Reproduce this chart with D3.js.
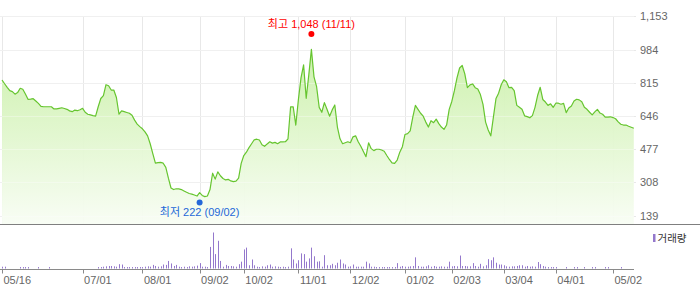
<!DOCTYPE html>
<html>
<head>
<meta charset="utf-8">
<script src="https://cdn.jsdelivr.net/npm/d3@7"></script>
<style>
  body { margin: 0; background: #fff; }
  svg { display: block; font-family: "Liberation Sans", "Noto Sans CJK KR", sans-serif; }
</style>
</head>
<body>
<svg id="chart" width="700" height="289"></svg>
<script>
// closing price per trading day (index 0 = 05/16)
const prices = [
  829,810,792,775,770,757,765,787,782,758,
  731,732,734,722,710,695,693,693,693,693,
  682,682,685,688,684,680,672,668,676,673,
  678,685,665,655,652,648,645,693,735,750,
  805,800,778,778,740,655,672,668,664,660,
  650,625,605,592,581,565,545,505,455,406,
  409,410,406,385,330,280,272,276,275,272,
  265,258,252,249,244,239,256,242,236,239,
  272,355,325,362,342,328,321,324,316,312,
  315,330,405,445,462,485,505,525,528,524,
  500,492,504,515,508,512,505,514,514,515,
  530,693,692,600,730,840,906,736,855,985,
  845,795,690,665,714,680,645,677,702,590,
  530,505,510,515,510,540,545,515,492,465,
  439,510,480,470,477,477,473,467,445,425,
  408,405,422,462,490,552,556,570,640,700,
  680,660,645,615,590,622,612,630,607,590,
  578,600,680,720,775,840,890,903,860,790,
  804,809,790,783,755,705,615,575,545,640,
  735,762,805,830,820,790,792,775,700,690,
  680,647,643,637,648,690,750,792,730,717,
  700,708,690,711,711,706,710,663,687,697,
  722,731,728,719,690,680,665,652,667,680,
  661,655,640,640,642,638,632,616,604,600,
  600,594,589,584
];

// volume per trading day (relative units, max = 100)
const volumes = [
  5,5,0,0,0,0,0,4,4,4,
  4,0,0,0,4,0,0,0,4,0,
  0,0,0,0,0,0,0,0,0,0,
  0,0,0,0,0,0,0,4,4,5,
  6,7,7,6,5,12,11,4,4,4,
  4,4,4,4,4,5,6,5,10,7,
  5,6,11,10,21,14,7,10,5,4,
  5,4,6,5,6,8,15,5,5,4,
  60,100,40,77,21,5,10,7,7,6,
  5,12,19,53,58,9,25,9,5,4,
  6,5,9,11,5,6,5,4,5,4,
  5,56,25,14,23,42,40,19,28,58,
  34,19,20,5,37,9,9,13,9,16,
  25,14,11,5,6,11,5,5,5,5,
  19,14,5,5,4,4,4,4,4,4,
  4,4,15,5,7,5,5,6,7,31,
  7,5,5,6,9,5,7,5,5,6,
  5,5,19,6,7,6,36,7,7,6,
  6,15,7,5,13,6,9,26,23,31,
  16,11,11,9,6,5,6,6,7,9,
  9,5,7,5,6,5,18,12,7,5,
  4,4,4,4,0,0,0,4,0,0,
  4,4,0,0,4,0,0,4,4,0,
  0,0,4,4,0,0,0,0,4,0,
  0,0,0,0
];

const yTicks = [139, 308, 477, 646, 815, 984, 1153];
const xTickDays = [0, 31, 54, 76, 93, 114, 134, 155, 173, 193, 213, 235];
const xTickLabels = ['05/16', '07/01', '08/01', '09/02', '10/02', '11/01', '12/02', '01/02', '02/03', '03/04', '04/01', '05/02'];

const high = { day: 119, value: 1048, label: '최고 1,048 (11/11)' };
const low = { day: 76, value: 222, label: '최저 222 (09/02)' };

const svg = d3.select('#chart');

const x = d3.scaleLinear().domain([0, prices.length - 1]).range([2, 633.8]);
const y = d3.scaleLinear().domain([139, 1153]).range([215.7, 16.3]);
const yVol = d3.scaleLinear().domain([0, 100]).range([268.5, 232.5]);

const priceBottom = 224;
const crisp = v => Math.round(v) + 0.5;

// gradient fill
const defs = svg.append('defs');
const grad = defs.append('linearGradient')
  .attr('id', 'fillGrad')
  .attr('gradientUnits', 'userSpaceOnUse')
  .attr('x1', 0).attr('x2', 0)
  .attr('y1', y(1153)).attr('y2', priceBottom);
grad.append('stop').attr('offset', 0).attr('stop-color', '#c2ee9b');
grad.append('stop').attr('offset', 1).attr('stop-color', '#f8fdf4');

// grid
const grid = svg.append('g');
grid.selectAll('line.h')
  .data(yTicks)
  .join('line')
  .attr('x1', 0).attr('x2', 636)
  .attr('y1', d => crisp(y(d))).attr('y2', d => crisp(y(d)))
  .attr('stroke', '#e8e8e8');
grid.selectAll('line.v')
  .data(xTickDays)
  .join('line')
  .attr('x1', d => crisp(x(d))).attr('x2', d => crisp(x(d)))
  .attr('y1', crisp(y(1153))).attr('y2', priceBottom)
  .attr('stroke', '#e8e8e8');

// price area + line
const area = d3.area()
  .x((d, i) => x(i))
  .y0(priceBottom)
  .y1(d => y(d));
const line = d3.line()
  .x((d, i) => x(i))
  .y(d => y(d));

svg.append('path')
  .attr('d', area(prices))
  .attr('fill', 'url(#fillGrad)')
  .attr('opacity', 0.95);

// redraw grid faintly over fill
svg.append('g').selectAll('line')
  .data(yTicks)
  .join('line')
  .attr('x1', 0).attr('x2', 634)
  .attr('y1', d => crisp(y(d))).attr('y2', d => crisp(y(d)))
  .attr('stroke', '#ffffff').attr('stroke-opacity', 0.35);

svg.append('path')
  .attr('d', line(prices))
  .attr('fill', 'none')
  .attr('stroke', '#66c52f')
  .attr('stroke-width', 1.2)
  .attr('stroke-linejoin', 'round');

// right axis labels
svg.append('g').selectAll('text')
  .data(yTicks)
  .join('text')
  .attr('x', 640)
  .attr('y', d => y(d) + 4)
  .attr('font-size', 11)
  .attr('fill', '#666')
  .text(d => d3.format(',')(d));

// separator between price and volume panels
svg.append('line')
  .attr('x1', 0).attr('x2', 700)
  .attr('y1', priceBottom + 0.5).attr('y2', priceBottom + 0.5)
  .attr('stroke', '#7f7f7f');

// volume bars
svg.append('g').selectAll('rect')
  .data(volumes.map((v, i) => ({ v, i })).filter(d => d.v > 0))
  .join('rect')
  .attr('x', d => Math.round(x(d.i)))
  .attr('width', 1)
  .attr('y', d => yVol(d.v))
  .attr('height', d => yVol(0) - yVol(d.v))
  .attr('fill', '#9478cc');

// volume baseline + ticks
svg.append('line')
  .attr('x1', 0).attr('x2', 634)
  .attr('y1', crisp(yVol(0))).attr('y2', crisp(yVol(0)))
  .attr('stroke', '#8a8a8a');
svg.append('g').selectAll('line')
  .data(xTickDays)
  .join('line')
  .attr('x1', d => crisp(x(d))).attr('x2', d => crisp(x(d)))
  .attr('y1', crisp(yVol(0))).attr('y2', crisp(yVol(0)) + 4)
  .attr('stroke', '#8a8a8a');

// x labels
svg.append('g').selectAll('text')
  .data(xTickDays)
  .join('text')
  .attr('x', d => x(d) + 1.5)
  .attr('y', 284)
  .attr('font-size', 11)
  .attr('fill', '#666')
  .text((d, i) => xTickLabels[i]);

// legend
svg.append('rect')
  .attr('x', 653).attr('y', 234)
  .attr('width', 2.5).attr('height', 8)
  .attr('fill', '#9478cc');
svg.append('text')
  .attr('x', 657.5).attr('y', 241.5)
  .attr('font-size', 10.5)
  .attr('fill', '#333')
  .text('거래량');

// high / low markers
svg.append('circle')
  .attr('cx', x(high.day)).attr('cy', y(high.value) - 3)
  .attr('r', 3).attr('fill', '#f00');
svg.append('text')
  .attr('x', x(high.day)).attr('y', y(high.value) - 9)
  .attr('text-anchor', 'middle')
  .attr('font-size', 11)
  .attr('fill', '#f00')
  .text(high.label);

svg.append('circle')
  .attr('cx', x(low.day)).attr('cy', y(low.value) + 3)
  .attr('r', 3).attr('fill', '#2468d8');
svg.append('text')
  .attr('x', x(low.day)).attr('y', y(low.value) + 17)
  .attr('text-anchor', 'middle')
  .attr('font-size', 11)
  .attr('fill', '#2468d8')
  .text(low.label);
</script>
</body>
</html>
